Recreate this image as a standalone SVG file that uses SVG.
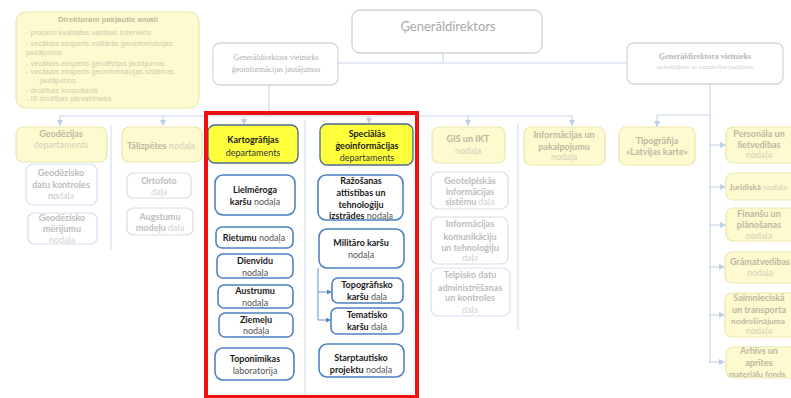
<svg xmlns="http://www.w3.org/2000/svg" width="791" height="398" viewBox="0 0 791 398">
<defs>
<marker id="ah" viewBox="0 0 6 6" refX="5" refY="3" markerWidth="5" markerHeight="5" orient="auto"><path d="M0,0 L6,3 L0,6 z" fill="#bcd0e8"/></marker>
<marker id="ahb" viewBox="0 0 6 6" refX="5" refY="3" markerWidth="5" markerHeight="5" orient="auto"><path d="M0,0 L6,3 L0,6 z" fill="#4f86c6"/></marker>
<style>
text{font-family:Lato,"Liberation Sans",sans-serif;text-anchor:middle}
.fy{fill:#fdfad0;stroke:#ebe6ae;stroke-width:1.2}
.fw{fill:#fff;stroke:#dcdcdc;stroke-width:1.2}
.fwb{fill:#fff;stroke:#d3e1f0;stroke-width:1.2}
.by{fill:#ffff3c;stroke:#4d6a90;stroke-width:1.3}
.bw{fill:#fff;stroke:#4d82c0;stroke-width:1.6}
.t{font-size:9px}
.s{font-size:8.2px}
.b{font-weight:bold}
.fb{fill:#bcb8a0;font-weight:bold}
.fn{fill:#d3d0b8}
.gb{fill:#bcbcbc;font-weight:bold}
.gn{fill:#d2d2d2}
.k{fill:#1a1a1a;font-weight:bold}
.n{fill:#555}
.ln{fill:none;stroke:#c9d8ea;stroke-width:1.2}
.sep{fill:none;stroke:#cfdbe8;stroke-width:1}
.dl{font-family:"Liberation Sans",sans-serif;font-size:7.4px;fill:#cfcbae;text-anchor:start}
.sr{font-family:"Liberation Serif",serif;fill:#b0b0b0}
</style>
</defs>

<g id="connectors">
<path class="ln" d="M443,53 V63 M338,63 H627"/>
<path class="ln" d="M269,85 V116 M60,116 H572"/>
<path class="ln" marker-end="url(#ah)" d="M60,116 V125"/>
<path class="ln" marker-end="url(#ah)" d="M163,116 V125"/>
<path class="ln" marker-end="url(#ah)" d="M244,116 V124"/>
<path class="ln" marker-end="url(#ah)" d="M369,116 V123"/>
<path class="ln" marker-end="url(#ah)" d="M468,116 V125"/>
<path class="ln" marker-end="url(#ah)" d="M572,116 V125"/>
<path class="ln" d="M710,84 V363 M657,115 H710"/>
<path class="ln" marker-end="url(#ah)" d="M657,115 V126"/>
<path class="ln" marker-end="url(#ah)" d="M710,145 H725"/>
<path class="ln" marker-end="url(#ah)" d="M710,187 H725"/>
<path class="ln" marker-end="url(#ah)" d="M710,225 H725"/>
<path class="ln" marker-end="url(#ah)" d="M710,267 H724"/>
<path class="ln" marker-end="url(#ah)" d="M710,315 H724"/>
<path class="ln" marker-end="url(#ah)" d="M710,362 H724"/>
<path class="sep" d="M111,125 V250 M305,120 V398 M518,124 V330"/>
<path fill="none" stroke="#5b8fd0" stroke-width="1" d="M318,268 V320"/>
<path fill="none" stroke="#5b8fd0" stroke-width="1" marker-end="url(#ahb)" d="M318,292 H331"/>
<path fill="none" stroke="#5b8fd0" stroke-width="1" marker-end="url(#ahb)" d="M318,320 H330"/>
</g>

<g id="direktoram">
<rect class="fy" x="16" y="12" width="183" height="96" rx="10"/>
<text x="108" y="22" style="font-family:'Liberation Sans',sans-serif;font-size:7.8px;font-weight:bold;fill:#c0bc9c">Direktoram pakļautie amati</text>
<text class="dl" x="26" y="35">- procesu kvalitātes vadības inženieris</text>
<text class="dl" x="26" y="46">- vecākais eksperts militārās ģeoinformācijas</text>
<text class="dl" x="26" y="55">jautājumos</text>
<text class="dl" x="26" y="66">-    vecākais eksperts ģeodēzijas jautājumos</text>
<text class="dl" x="26" y="74">-    vecākais eksperts ģeoinformācijas sistēmas</text>
<text class="dl" x="40" y="83">jautājumos</text>
<text class="dl" x="26" y="93">-    drošības konsultants</text>
<text class="dl" x="26" y="101">-    IS drošības pārvaldnieks</text>
</g>

<g id="generaldirektors">
<rect x="352" y="10" width="190" height="43" rx="8" fill="#fff" stroke="#d2d2d2" stroke-width="1.3"/>
<text x="448" y="31" style="font-size:13px;fill:#a9a9a9">Ģenerāldirektors</text>
</g>

<g id="vietnieks-geo">
<rect x="213" y="43" width="125" height="42" rx="7" fill="#fff" stroke="#d6d6d6" stroke-width="1.3"/>
<text class="sr" x="276" y="60" style="font-size:8px">Ģenerāldirektora vietnieks</text>
<text class="sr" x="276" y="72" style="font-size:8px">ģeoinformācijas jautājumos</text>
</g>

<g id="vietnieks-saimn">
<rect x="627" y="43" width="156" height="41" rx="7" fill="#fff" stroke="#d6d6d6" stroke-width="1.3"/>
<text class="sr" x="705" y="59" style="font-size:8px;font-weight:bold;fill:#b8b8b8">Ģenerāldirektora vietnieks</text>
<text class="sr" x="705" y="69" style="font-size:5.6px;fill:#cfcfcf">nodrošinājuma un saimniecības jautājumos</text>
</g>

<g id="geodezijas">
<rect class="fy" x="16" y="127" width="91" height="35" rx="7"/>
<text class="t fb" x="61" y="137">Geodēzijas</text>
<text class="t fn" x="61" y="148">departaments</text>
</g>
<g id="geod-datu">
<rect class="fwb" x="26" y="164" width="71" height="41" rx="7"/>
<text class="t gb" x="61" y="176">Geodēzisko</text>
<text class="t gb" x="61" y="188">datu kontroles</text>
<text class="t" x="61" y="199"><tspan style="fill:#bdbdbd">no</tspan><tspan class="gn">daļa</tspan></text>
</g>
<g id="geod-merijumu">
<rect class="fwb" x="28" y="213" width="69" height="31" rx="6"/>
<text class="t gb" x="62" y="221">Geodēzisko</text>
<text class="t gb" x="62" y="232">mērījumu</text>
<text class="t gn" x="62" y="243">nodaļa</text>
</g>

<g id="talizpetes">
<rect class="fy" x="122" y="127" width="80" height="35" rx="7"/>
<text class="t" x="161" y="149"><tspan class="fb">Tālizpētes</tspan><tspan class="fn"> nodaļa</tspan></text>
</g>
<g id="ortofoto">
<rect class="fw" x="127" y="173" width="64" height="25" rx="6"/>
<text class="t gb" x="159" y="184">Ortofoto</text>
<text class="t gn" x="159" y="195">daļa</text>
</g>
<g id="augstumu">
<rect class="fw" x="127" y="208" width="66" height="27" rx="6"/>
<text class="t gb" x="160" y="220">Augstumu</text>
<text class="t" x="160" y="231"><tspan class="gb">modeļu</tspan><tspan class="gn"> daļa</tspan></text>
</g>

<g id="kartografijas">
<rect class="by" x="208" y="125" width="90" height="38" rx="7"/>
<text class="t k" x="253" y="143">Kartogrāfijas</text>
<text class="t n" x="253" y="156" style="fill:#333">departaments</text>
</g>
<g id="lielmeroga">
<rect class="bw" x="215" y="175" width="80" height="40" rx="8"/>
<text class="t k" x="255" y="193">Lielmēroga</text>
<text class="t" x="255" y="205"><tspan class="k">karšu</tspan><tspan class="n"> nodaļa</tspan></text>
</g>
<g id="rietumu">
<rect class="bw" x="216" y="227" width="77" height="21" rx="6"/>
<text class="t" x="254" y="241"><tspan class="k">Rietumu</tspan><tspan class="n"> nodaļa</tspan></text>
</g>
<g id="dienvidu">
<rect class="bw" x="217" y="254" width="76" height="24" rx="6"/>
<text class="t k" x="255" y="264">Dienvidu</text>
<text class="t n" x="255" y="276">nodaļa</text>
</g>
<g id="austrumu">
<rect class="bw" x="218" y="285" width="75" height="23" rx="6"/>
<text class="t k" x="255" y="294">Austrumu</text>
<text class="t n" x="255" y="306">nodaļa</text>
</g>
<g id="ziemelu">
<rect class="bw" x="219" y="313" width="74" height="24" rx="6"/>
<text class="t k" x="256" y="323">Ziemeļu</text>
<text class="t n" x="256" y="334">nodaļa</text>
</g>
<g id="toponimikas">
<rect class="bw" x="215" y="348" width="79" height="32" rx="8"/>
<text class="t k" x="255" y="362">Toponīmikas</text>
<text class="t n" x="255" y="374">laboratorija</text>
</g>

<g id="specialas">
<rect class="by" x="320" y="124" width="93" height="41" rx="7"/>
<text class="t k" x="367" y="137">Speciālās</text>
<text class="t k" x="367" y="149">ģeoinformācijas</text>
<text class="t n" x="367" y="161" style="fill:#333">departaments</text>
</g>
<g id="razosanas">
<rect class="bw" x="318" y="175" width="85" height="45" rx="8"/>
<text class="t k" x="361" y="184">Ražošanas</text>
<text class="t k" x="361" y="196">attīstības un</text>
<text class="t k" x="361" y="208">tehnoloģiju</text>
<text class="t" x="361" y="219"><tspan class="k">izstrādes</tspan><tspan class="n"> nodaļa</tspan></text>
</g>
<g id="militaro">
<rect class="bw" x="319" y="229" width="85" height="39" rx="8"/>
<text class="t k" x="361" y="246">Militāro karšu</text>
<text class="t n" x="361" y="258">nodaļa</text>
</g>
<g id="topografisko">
<rect class="bw" x="332" y="278" width="71" height="25" rx="6"/>
<text class="t k" x="367" y="288">Topogrāfisko</text>
<text class="t" x="367" y="300"><tspan class="k">karšu</tspan><tspan class="n"> daļa</tspan></text>
</g>
<g id="tematisko">
<rect class="bw" x="331" y="308" width="72" height="26" rx="6"/>
<text class="t k" x="367" y="318">Tematisko</text>
<text class="t" x="367" y="330"><tspan class="k">karšu</tspan><tspan class="n"> daļa</tspan></text>
</g>
<g id="starptautisko">
<rect class="bw" x="319" y="344" width="85" height="33" rx="8"/>
<text class="t k" x="361" y="361">Starptautisko</text>
<text class="t" x="361" y="373"><tspan class="k">projektu</tspan><tspan class="n"> nodaļa</tspan></text>
</g>

<g id="gis">
<rect class="fy" x="432" y="127" width="73" height="36" rx="7"/>
<text class="t fb" x="468" y="142">GIS un IKT</text>
<text class="t fn" x="468" y="154">nodaļa</text>
</g>
<g id="geotelpiskas">
<rect class="fw" x="431" y="172" width="77" height="37" rx="7"/>
<text class="t gb" x="470" y="184">Geotelpiskās</text>
<text class="t gb" x="470" y="195">informācijas</text>
<text class="t" x="470" y="205"><tspan class="gb">sistēmu</tspan><tspan class="gn"> daļa</tspan></text>
</g>
<g id="komunikaciju">
<rect class="fw" x="431" y="217" width="77" height="47" rx="7"/>
<text class="t gb" x="470" y="227">Informācijas</text>
<text class="t gb" x="470" y="240">komunikāciju</text>
<text class="t gb" x="470" y="251">un tehnoloģiju</text>
<text class="t gn" x="470" y="261">daļa</text>
</g>
<g id="telpisko">
<rect class="fwb" x="431" y="268" width="79" height="48" rx="7"/>
<text class="t gb" x="470" y="278">Telpisko datu</text>
<text class="t gb" x="470" y="291">administrēšanas</text>
<text class="t gb" x="470" y="301">un kontroles</text>
<text class="t gn" x="470" y="313">daļa</text>
</g>

<g id="informacijas">
<rect class="fy" x="524" y="127" width="81" height="38" rx="7"/>
<text class="t fb" x="564" y="138">Informācijas un</text>
<text class="t fb" x="564" y="150">pakalpojumu</text>
<text class="t fn" x="564" y="160">nodaļa</text>
</g>

<g id="tipografija">
<rect class="fy" x="619" y="127" width="76" height="38" rx="7"/>
<text class="t fb" x="657" y="144">Tipogrāfija</text>
<text class="t fb" x="657" y="155">«Latvijas karte»</text>
</g>

<g id="personala">
<rect class="fy" x="726" y="127" width="72" height="36" rx="7"/>
<text class="t fb" x="759" y="137">Personāla un</text>
<text class="t fb" x="759" y="148">lietvedības</text>
<text class="t fn" x="759" y="158">nodaļa</text>
</g>
<g id="juridiska">
<rect class="fy" x="726" y="173" width="72" height="27" rx="7"/>
<text class="s" x="758" y="190"><tspan class="fb">Juridiskā</tspan><tspan class="fn"> nodaļa</tspan></text>
</g>
<g id="finansu">
<rect class="fy" x="726" y="208" width="72" height="33" rx="7"/>
<text class="t fb" x="759" y="217">Finanšu un</text>
<text class="t fb" x="759" y="228">plānošanas</text>
<text class="t fn" x="759" y="239">nodaļa</text>
</g>
<g id="gramatvedibas">
<rect class="fy" x="725" y="252" width="73" height="31" rx="7"/>
<text class="t fb" x="760" y="265">Grāmatvedības</text>
<text class="t fn" x="760" y="276">nodaļa</text>
</g>
<g id="saimnieciska">
<rect class="fy" x="725" y="293" width="73" height="44" rx="7"/>
<text class="t fb" x="759" y="301">Saimnieciskā</text>
<text class="t fb" x="759" y="313">un transporta</text>
<text class="s fb" x="758" y="324">nodrošinājuma</text>
<text class="t fn" x="759" y="334">nodaļa</text>
</g>
<g id="arhivs">
<rect class="fy" x="726" y="347" width="72" height="31" rx="7"/>
<text class="t fb" x="759" y="354">Arhīvs un</text>
<text class="t fb" x="759" y="366">aprītes</text>
<text class="s fb" x="757" y="377">materiālu fonds</text>
</g>

<g id="highlight">
<rect x="206" y="113" width="211" height="284" fill="none" stroke="#ee1111" stroke-width="4"/>
</g>
</svg>
